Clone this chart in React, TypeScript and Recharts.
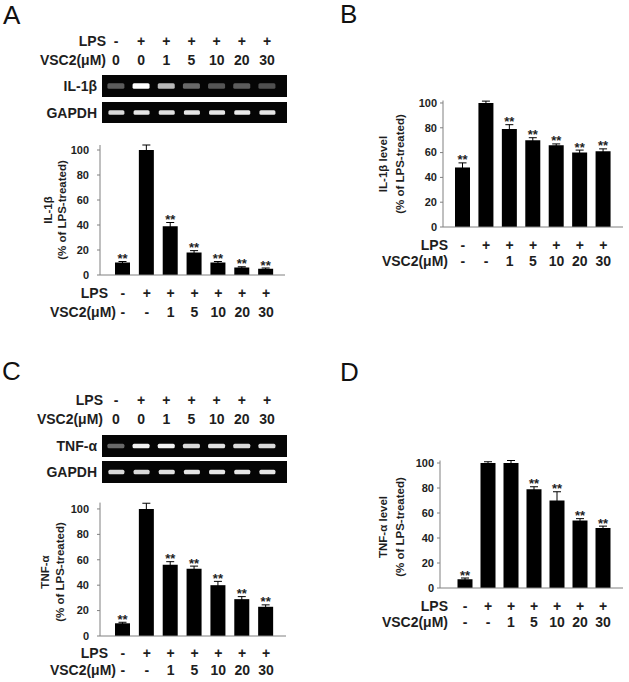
import React from 'react';
import { BarChart, Bar, XAxis, YAxis, ErrorBar, LabelList, CartesianGrid } from 'recharts';

const FONT = '"Liberation Sans", Arial, Helvetica, sans-serif';
const INK = '#1e1e1e';
const AXIS = '#808080';

// lanes / treatment rows
const lanes = ['1', '2', '3', '4', '5', '6', '7'];
const lpsRow = ['-', '+', '+', '+', '+', '+', '+'];
const vscGelRow = ['0', '0', '1', '5', '10', '20', '30'];
const vscBarRow = ['-', '-', '1', '5', '10', '20', '30'];
const yTicks = [0, 20, 40, 60, 80, 100];

// A: IL-1b mRNA (% of LPS-treated)
const il1bMrna = [10, 100, 39, 18, 10, 6, 5];
const il1bMrnaErr = [0.8, 4, 3, 1.5, 0.8, 0.6, 0.6];
const il1bMrnaSig = ['**', '', '**', '**', '**', '**', '**'];

// B: IL-1b protein level
const il1bLevel = [48, 100, 79, 70, 66, 60, 61];
const il1bLevelErr = [3.7, 1.5, 3.5, 2, 1, 2, 2];
const il1bLevelSig = ['**', '', '**', '**', '**', '**', '**'];

// C: TNF-a mRNA
const tnfMrna = [10, 100, 56, 53, 40, 29, 23];
const tnfMrnaErr = [0.8, 4.5, 2.5, 2, 3, 2, 1.5];
const tnfMrnaSig = ['**', '', '**', '**', '**', '**', '**'];

// D: TNF-a protein level
const tnfLevel = [7, 100, 100, 79, 70, 54, 48];
const tnfLevelErr = [1, 1, 2, 2, 7, 1.5, 1.5];
const tnfLevelSig = ['**', '', '', '**', '**', '**', '**'];

// gel band brightness (0..1)
const il1bBand = [0.35, 1, 0.72, 0.4, 0.32, 0.35, 0.3];
const gapdhBandA = [0.85, 0.9, 0.88, 0.9, 0.9, 0.92, 0.9];
const tnfBand = [0.4, 0.95, 0.95, 0.85, 0.88, 0.85, 0.85];
const gapdhBandC = [0.85, 0.85, 0.88, 0.9, 0.9, 0.9, 0.9];

const rowFont = { fontFamily: FONT, fontSize: 14, fontWeight: 700, fill: INK } as const;

type Box = { left: number; top: number; right: number; bottom: number };

function RowLabels({ x, y, payload, dy, labelEnd, chartX, vsc }: any) {
  const i = lanes.indexOf(String(payload.value));
  return (
    <g>
      <text x={x} y={y + dy[0]} textAnchor="middle" dominantBaseline="central" style={rowFont}>
        {lpsRow[i]}
      </text>
      <text x={x} y={y + dy[1]} textAnchor="middle" dominantBaseline="central" style={rowFont}>
        {vsc[i]}
      </text>
      {i === 0 && (
        <>
          <text x={labelEnd[0] - chartX} y={y + dy[0]} textAnchor="end" dominantBaseline="central" style={rowFont}>
            LPS
          </text>
          <text x={labelEnd[1] - chartX} y={y + dy[1]} textAnchor="end" dominantBaseline="central" style={rowFont}>
            VSC2(μM)
          </text>
        </>
      )}
    </g>
  );
}

function YTitle({ lines, xs, cy, chartX, chartY }: any) {
  return (
    <g>
      {lines.map((t: string, k: number) => {
        const tx = xs[k] - chartX;
        const ty = cy - chartY;
        return (
          <text
            key={k}
            x={tx}
            y={ty}
            transform={`rotate(-90 ${tx} ${ty})`}
            textAnchor="middle"
            dominantBaseline="central"
            fontFamily={FONT}
            fontSize={11.5}
            fontWeight={700}
            fill={INK}
            style={{ fontFamily: FONT, fontSize: 11.5, fontWeight: 700, fill: INK }}
          >
            {t}
          </text>
        );
      })}
    </g>
  );
}

function SigLabel(props: any) {
  const { value, index, errs, data } = props;
  if (!value) return null;
  const vb = props.viewBox ?? props;
  const { x, y, width, height } = vb;
  const v = data[index];
  const errPx = v ? (errs[index] * Math.abs(height)) / v : 0;
  const top = Math.min(y, y + height) - errPx;
  return (
    <text
      x={x + width / 2}
      y={top + 1.5}
      textAnchor="middle"
      style={{ fontFamily: FONT, fontSize: 13, fontWeight: 700, fill: INK }}
    >
      {value}
    </text>
  );
}

function ExpressionChart(cfg: any) {
  const { x, y, width, height, plot, domainMax, values, errs, sigs, pad, dy, labelEnd, title, titleX, titleY, gap } = cfg;
  const rows = lanes.map((lane, i) => ({ lane, value: values[i], err: errs[i], sig: sigs[i] }));
  return (
    <div style={{ position: 'absolute', left: x, top: y }}>
      <BarChart
        width={width}
        height={height}
        data={rows}
        margin={{ top: plot.top - y, right: x + width - plot.right, left: 0, bottom: 0 }}
      >
        <XAxis
          dataKey="lane"
          height={y + height - plot.bottom}
          interval={0}
          padding={pad}
          tickLine={false}
          tickSize={0}
          tickMargin={0}
          axisLine={{ stroke: AXIS }}
          tick={(p: any) => <RowLabels {...p} dy={dy} labelEnd={labelEnd} chartX={x} vsc={vscBarRow} />}
        />
        <YAxis
          type="number"
          domain={[0, domainMax]}
          ticks={yTicks}
          interval={0}
          width={plot.left - x}
          tickSize={3}
          tickMargin={gap}
          axisLine={{ stroke: AXIS }}
          tickLine={{ stroke: AXIS }}
          tick={{ fill: INK, fontSize: 11, fontWeight: 700, fontFamily: FONT }}
          label={<YTitle lines={title} xs={titleX} cy={titleY} chartX={x} chartY={y} />}
        />
        <Bar dataKey="value" fill="#000" barSize={15} isAnimationActive={false}>
          <ErrorBar dataKey="err" width={4} stroke="#000" strokeWidth={1} direction="y" />
          <LabelList dataKey="sig" content={<SigLabel errs={errs} data={values} />} />
        </Bar>
      </BarChart>
    </div>
  );
}

function Band(props: any) {
  const { x, width, background, payload, bandW, bandH, filterId } = props;
  const bg = background ?? { y: props.y, height: props.height };
  const cx = x + width / 2;
  const cy = bg.y + bg.height / 2;
  return (
    <rect
      x={cx - bandW / 2}
      y={cy - bandH / 2}
      width={bandW}
      height={bandH}
      rx={1.5}
      fill="#ffffff"
      fillOpacity={payload.intensity}
      filter={`url(#${filterId})`}
    />
  );
}

function Gel(cfg: any) {
  const { x, y, width, height, box, bands, bandW, bandH, header, dy, labelEnd, id } = cfg;
  const rows = lanes.map((lane, i) => ({ lane, intensity: bands[i] }));
  const b: Box = box;
  return (
    <div style={{ position: 'absolute', left: x, top: y }}>
      <BarChart
        width={width}
        height={height}
        data={rows}
        margin={{
          top: header ? 0 : b.top - y,
          left: b.left - x,
          right: x + width - b.right,
          bottom: y + height - b.bottom,
        }}
      >
        <defs>
          <filter id={id} x="-50%" y="-100%" width="200%" height="300%">
            <feGaussianBlur stdDeviation="0.7" />
          </filter>
        </defs>
        <CartesianGrid fill="#050505" horizontal={false} vertical={false} />
        <XAxis
          dataKey="lane"
          orientation="top"
          hide={!header}
          height={header ? b.top - y : 0}
          interval={0}
          padding={{ left: 1.4, right: 7.4 }}
          tickLine={false}
          tickSize={0}
          tickMargin={0}
          axisLine={false}
          tick={(p: any) => <RowLabels {...p} dy={dy} labelEnd={labelEnd} chartX={x} vsc={vscGelRow} />}
        />
        <YAxis hide domain={[0, 1]} />
        <Bar
          dataKey="intensity"
          barSize={bandW}
          isAnimationActive={false}
          shape={(p: any) => <Band {...p} bandW={bandW} bandH={bandH} filterId={id} />}
        />
      </BarChart>
    </div>
  );
}

export default function App() {
  const letter = { fontFamily: FONT, fontSize: 26, fill: '#111' } as const;
  const gelLabel = { fontFamily: FONT, fontSize: 14, fontWeight: 700, fill: INK } as const;
  return (
    <div style={{ position: 'absolute', left: 0, top: 0, width: 629, height: 682, background: '#fff', overflow: 'hidden' }}>
      <svg width={629} height={682} style={{ position: 'absolute', left: 0, top: 0 }}>
        <text x={3} y={24} style={letter}>A</text>
        <text x={340} y={23} style={letter}>B</text>
        <text x={2} y={380} style={letter}>C</text>
        <text x={340} y={381} style={letter}>D</text>
        <text x={97} y={86} textAnchor="end" dominantBaseline="central" style={gelLabel}>IL-1β</text>
        <text x={97} y={112.5} textAnchor="end" dominantBaseline="central" style={gelLabel}>GAPDH</text>
        <text x={97} y={446} textAnchor="end" dominantBaseline="central" style={gelLabel}>TNF-α</text>
        <text x={97} y={472} textAnchor="end" dominantBaseline="central" style={gelLabel}>GAPDH</text>
      </svg>

      <Gel id="blurA1" x={0} y={28} width={300} height={69} box={{ left: 102, top: 75, right: 287, bottom: 97 }}
        bands={il1bBand} bandW={17} bandH={5.5} header dy={[-34, -15]} labelEnd={[106, 106]} />
      <Gel id="blurA2" x={100} y={100} width={190} height={25} box={{ left: 102, top: 102, right: 287, bottom: 123 }}
        bands={gapdhBandA} bandW={16} bandH={4.5} />

      <ExpressionChart x={0} y={130} width={300} height={200}
        plot={{ left: 100, top: 145, right: 285, bottom: 275 }} domainMax={104}
        values={il1bMrna} errs={il1bMrnaErr} sigs={il1bMrnaSig}
        pad={{ left: 11, right: 7 }} dy={[18, 37]} labelEnd={[108, 116]} gap={8}
        title={['IL-1β', '(% of LPS-treated)']} titleX={[48, 62]} titleY={210} />

      <ExpressionChart x={320} y={90} width={309} height={190}
        plot={{ left: 443, top: 100.5, right: 623, bottom: 227 }} domainMax={102}
        values={il1bLevel} errs={il1bLevelErr} sigs={il1bLevelSig}
        pad={{ left: 8, right: 8 }} dy={[18, 34]} labelEnd={[448, 448]} gap={3}
        title={['IL-1β level', '(% of LPS-treated)']} titleX={[383, 400]} titleY={164} />

      <Gel id="blurC1" x={0} y={388} width={300} height={69} box={{ left: 102, top: 435, right: 287, bottom: 457 }}
        bands={tnfBand} bandW={17} bandH={4.5} header dy={[-35, -16]} labelEnd={[103, 103]} />
      <Gel id="blurC2" x={100} y={459} width={190} height={26} box={{ left: 102, top: 461, right: 287, bottom: 483 }}
        bands={gapdhBandC} bandW={16} bandH={4.5} />

      <ExpressionChart x={0} y={490} width={300} height={192}
        plot={{ left: 100, top: 502.6, right: 286, bottom: 636 }} domainMax={105}
        values={tnfMrna} errs={tnfMrnaErr} sigs={tnfMrnaSig}
        pad={{ left: 11, right: 8 }} dy={[17, 34]} labelEnd={[108, 116]} gap={8}
        title={['TNF-α', '(% of LPS-treated)']} titleX={[45, 60]} titleY={572} />

      <ExpressionChart x={320} y={450} width={309} height={190}
        plot={{ left: 440, top: 460.5, right: 623, bottom: 588 }} domainMax={102}
        values={tnfLevel} errs={tnfLevelErr} sigs={tnfLevelSig}
        pad={{ left: 13.5, right: 8.5 }} dy={[18, 34]} labelEnd={[448, 448]} gap={3}
        title={['TNF-α level', '(% of LPS-treated)']} titleX={[383, 400]} titleY={527} />
    </div>
  );
}
